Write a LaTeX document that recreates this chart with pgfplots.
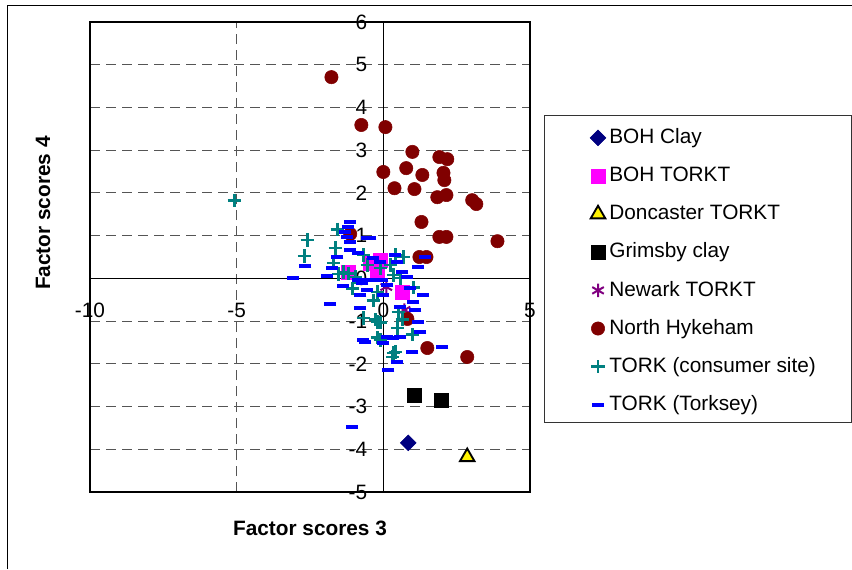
\documentclass[border=0pt]{standalone}
\usepackage{pgfplots}
\pgfplotsset{compat=1.18}
\usepackage{fontspec}
\setmainfont{Liberation Sans}

\definecolor{nhred}{HTML}{800000}
\definecolor{torkteal}{HTML}{008080}
\definecolor{bohnavy}{HTML}{000080}
\definecolor{bohpink}{HTML}{FF00FF}
\definecolor{newarkpurple}{HTML}{800080}
\definecolor{gridgray}{HTML}{555555}

\newcommand{\chartfont}{\fontsize{15.6pt}{18pt}\selectfont}

\pgfplotsset{
  lgd/.style={only marks,
    legend image code/.code={%
      \path[draw=none, fill=none] (-6pt,-5pt) rectangle (8.5pt,5pt);
      \draw[##1] plot coordinates {(0pt,0pt)};}},
}

\begin{document}
\begin{tikzpicture}[font=\chartfont]
\useasboundingbox (0pt,0pt) rectangle (639pt,-426.75pt);
% outer chart frame
\draw[line width=0.75pt] (5.25pt,-426.75pt) -- (5.25pt,-3.75pt) -- (639pt,-3.75pt);
% legend frame
\draw[line width=0.75pt, black!80] (408pt,-86.25pt) rectangle (638.6pt,-316.5pt);

\begin{axis}[
  at={(67.5pt,-369pt)}, anchor=south west,
  width=330pt, height=352.5pt, scale only axis,
  xmin=-10, xmax=5, ymin=-5, ymax=6,
  axis line style={line width=1.5pt},
  xtick={-5}, ytick={-4,-3,-2,-1,1,2,3,4,5},
  xticklabels={}, yticklabels={},
  extra x ticks={0}, extra y ticks={0},
  extra x tick labels={}, extra y tick labels={},
  extra tick style={grid=major, major grid style={solid, black, line width=0.75pt}},
  major tick length=0pt,
  grid=major,
  major grid style={gridgray, line width=0.75pt, dash pattern=on 7.5pt off 4.5pt},
  clip=false,
  legend cell align=left,
  legend style={
    at={(1.1364,0.7755)}, anchor=north west,
    draw=none, fill=none, inner sep=0pt, outer sep=0pt,
    row sep=13.1pt,
    nodes={inner sep=0pt, text height=12pt, text depth=3.5pt},
    font=\chartfont,
  },
]

% BOH Clay
\addplot[lgd, mark=square*, mark size=4.2pt, mark options={rotate=45, fill=bohnavy, draw=bohnavy}]
  coordinates {(0.85,-3.85)};
\addlegendentry{BOH Clay}

% BOH TORKT
\addplot[lgd, mark=square*, mark size=5.4pt, mark options={fill=bohpink, draw=bohpink}]
  coordinates {(-1.19,0.15) (-0.44,0.36) (-0.10,0.43) (-0.20,0.15) (0.65,-0.32)};
\addlegendentry{BOH TORKT}

% Doncaster TORKT
\addplot[lgd, mark=triangle*, mark size=6.3pt, mark options={fill=yellow, draw=black, line width=1.4pt}]
  coordinates {(2.86,-4.18)};
\addlegendentry{Doncaster TORKT}

% Grimsby clay
\addplot[lgd, mark=square*, mark size=5.2pt, mark options={fill=black, draw=black}]
  coordinates {(1.06,-2.73) (1.98,-2.85)};
\addlegendentry{Grimsby clay}

% Newark TORKT
\addplot[lgd, mark=asterisk, mark size=5pt, mark options={draw=newarkpurple, line width=1.5pt}]
  coordinates {(0.10,-0.20) (0.72,-0.74)};
\addlegendentry{Newark TORKT}

% North Hykeham
\addplot[lgd, mark=*, mark size=5pt, mark options={fill=nhred, draw=nhred}]
  coordinates {
  (-1.77,4.71) (-0.75,3.59) (0.07,3.54) (0.99,2.96) (1.91,2.84) (2.18,2.79)
  (0.00,2.49) (0.78,2.58) (1.33,2.42) (2.05,2.47) (2.08,2.30) (0.38,2.11)
  (1.06,2.09) (1.84,1.90) (2.15,1.95) (3.03,1.83) (3.17,1.74) (1.30,1.32)
  (1.91,0.97) (2.15,0.97) (3.89,0.87) (1.23,0.50) (1.47,0.50) (0.82,-0.95)
  (1.50,-1.63) (2.86,-1.84) (-1.13,1.04)
  };
\addlegendentry{North Hykeham}

% TORK (consumer site)
\addplot[lgd, mark=+, mark size=5pt, mark options={draw=torkteal, line width=2pt}]
  coordinates {
  (-5.08,1.83) (-2.59,0.90) (-2.69,0.52) (-1.57,1.15) (-1.64,0.71) (-1.70,0.36)
  (-1.53,0.10) (-1.36,0.15) (-1.19,0.12) (-0.95,0.03) (-1.06,-0.23) (-0.68,0.55)
  (-0.55,0.31) (-0.10,0.24) (0.24,0.31) (0.68,0.50) (0.34,0.08) (0.41,0.55)
  (0.58,0.01) (1.02,-0.22) (-0.20,-0.32) (-0.34,-0.51) (-0.68,-0.93) (-0.27,-0.97)
  (-0.20,-1.02) (-0.10,-1.04) (0.51,-0.79) (0.65,-0.97) (0.48,-1.16) (0.99,-1.32)
  (-0.20,-1.39) (-0.10,-1.44) (0.41,-1.72) (0.34,-1.75) (0.31,-1.84)
  };
\addlegendentry{TORK (consumer site)}

% TORK (Torksey)
\addplot[lgd, mark=-, mark size=4.5pt, mark options={draw=blue, line width=3pt}]
  coordinates {
  (-3.07,0.01) (-2.66,0.29) (-1.91,0.05) (-1.74,0.24) (-1.57,0.50) (-1.13,1.32)
  (-1.19,1.20) (-1.30,1.09) (-1.23,0.97) (-1.13,0.85) (-0.55,0.94) (-1.13,0.66)
  (-0.85,0.59) (-0.34,0.48) (-0.10,0.38) (0.41,0.55) (0.48,0.38) (0.65,0.15)
  (1.19,0.26) (1.43,0.50) (-0.44,0.94) (-1.36,-0.18) (-0.72,-0.11) (-0.55,-0.27)
  (-0.78,-0.39) (-0.85,-0.04) (0.14,-0.16) (-0.03,-0.04) (0.82,0.03) (0.92,-0.23)
  (1.36,-0.39) (1.02,-0.55) (0.00,-0.39) (-1.81,-0.60) (-0.78,-0.69) (0.58,-0.67)
  (1.09,-0.74) (1.19,-1.02) (1.26,-1.25) (-0.61,-1.49) (0.00,-1.51) (0.34,-1.40)
  (0.58,-1.37) (0.14,-1.37) (2.01,-1.61) (0.99,-1.72) (0.48,-1.96) (0.17,-2.14)
  (-1.06,-3.48) (-0.68,-1.44) (-0.44,-0.04)
  };
\addlegendentry{TORK (Torksey)}

% tick labels along the zero lines
\pgfplotsinvokeforeach{-10,-5,0,5}{
  \node[inner sep=0pt, anchor=center, yshift=-24pt] at (axis cs:#1,0) {#1};
}
\pgfplotsinvokeforeach{-5,-4,-3,-2,-1,0,1,2,3,4,5,6}{
  \node[inner sep=0pt, anchor=east, xshift=-12pt] at (axis cs:0,#1) {#1};
}
\end{axis}

% axis titles
\node[font=\chartfont\bfseries] at (232.5pt,-396pt) {Factor scores 3};
\node[font=\chartfont\bfseries, rotate=90] at (32.25pt,-159.75pt) {Factor scores 4};
\end{tikzpicture}
\end{document}
